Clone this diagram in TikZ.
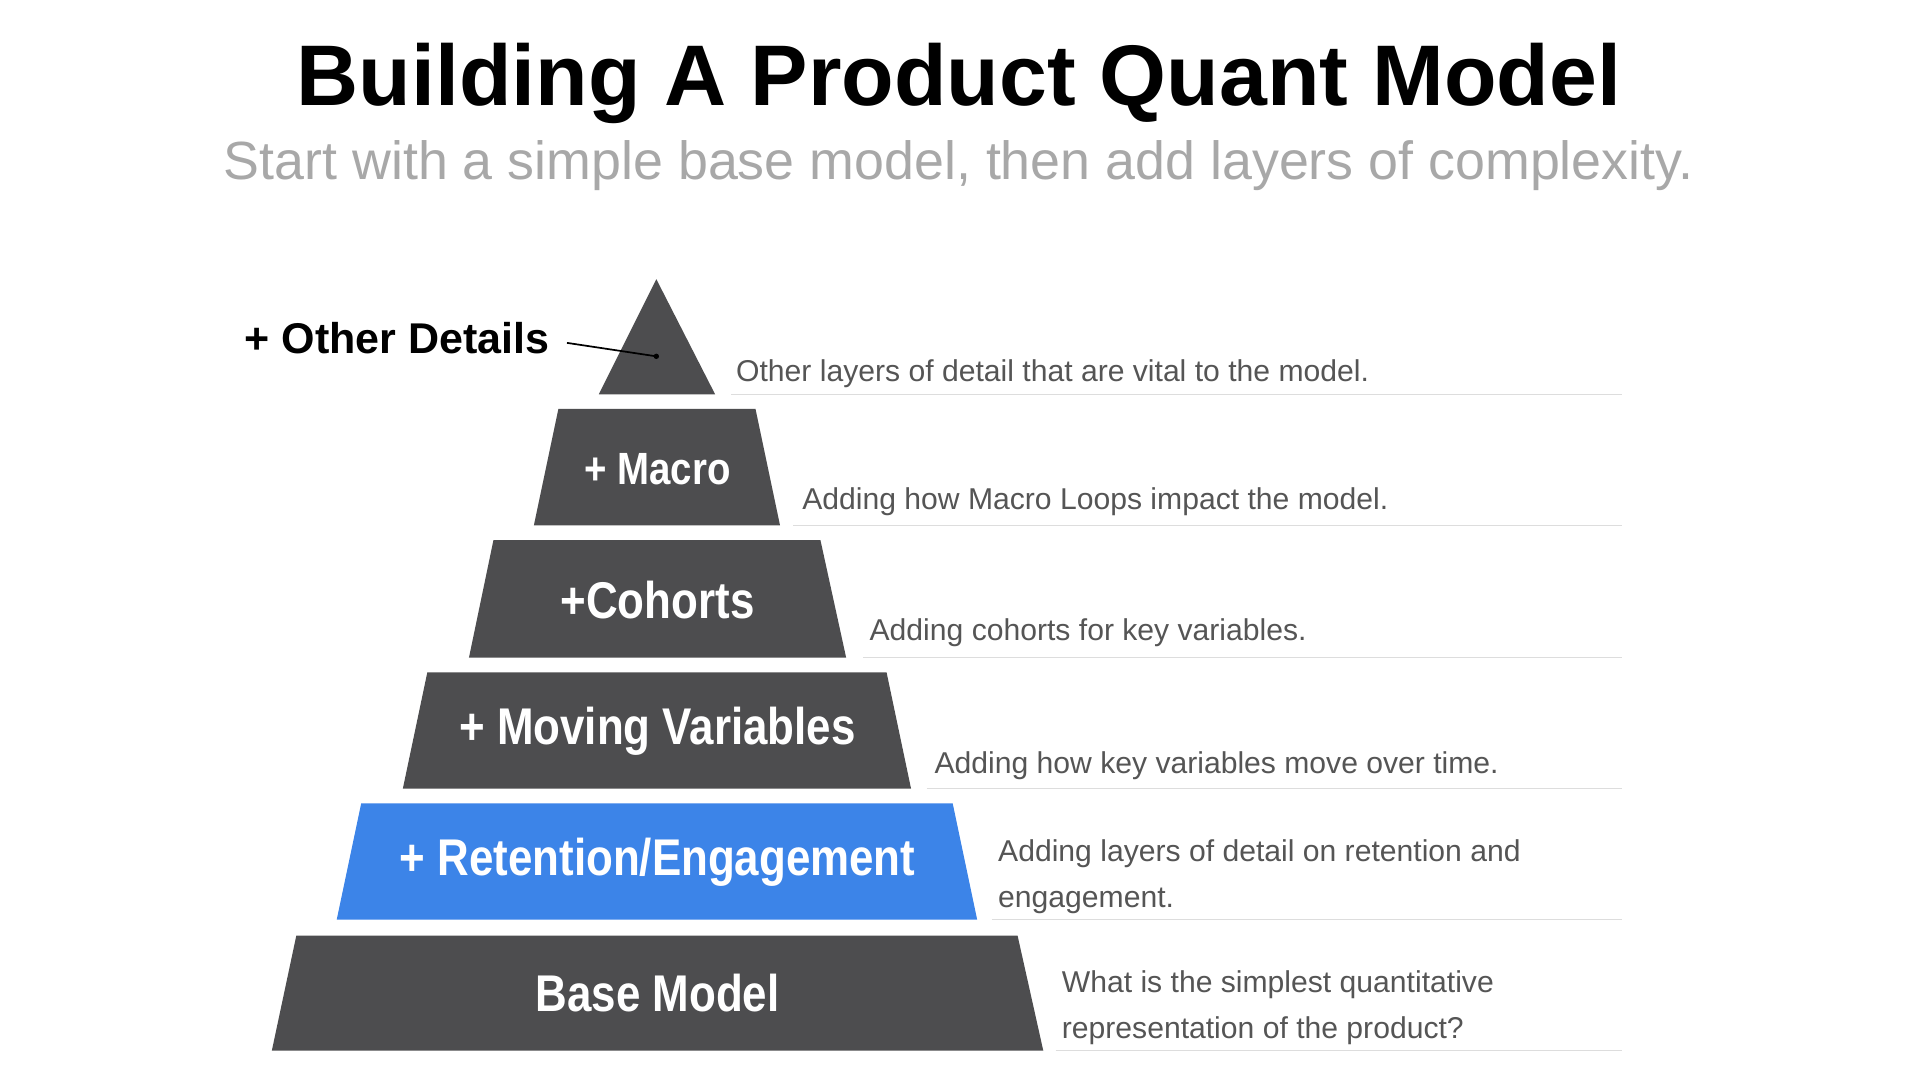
\documentclass[tikz,border=0pt]{standalone}
\usepackage{fontspec}
\setmainfont{Liberation Sans}
\begin{document}
\begin{tikzpicture}[x=0.02cm,y=-0.02cm,
  layer/.style={fill=dark,draw=none},
  lab/.style={text=white,font=\bfseries\fontsize{24}{28}\selectfont,xscale=0.85,transform shape},
  desc/.style={text=txt,anchor=west,font=\fontsize{14}{21}\selectfont,align=left},
  rule/.style={draw=rulec,line width=0.5pt}]
\definecolor{dark}{HTML}{4D4D4F}
\definecolor{blue}{HTML}{3C84E8}
\definecolor{txt}{HTML}{555555}
\definecolor{rulec}{HTML}{DDDDDD}
\definecolor{sub}{HTML}{A8A8A8}
\useasboundingbox (0,0) rectangle (1568,882);
\fill[white] (0,0) rectangle (1568,882);
\node (title) at (783,68) {\bfseries\fontsize{40}{46}\selectfont Building A Product Quant Model};
\node[text=sub] (subtitle) at (783,135) {\fontsize{25}{30}\selectfont Start with a simple base model, then add layers of complexity.};
% layers
\fill[layer] (536,228) -- (584,322) -- (489,322) -- cycle;
\fill[layer] (456,334) -- (617,334) -- (637,429) -- (436,429) -- cycle;
\fill[layer] (403,441) -- (670,441) -- (691,537) -- (383,537) -- cycle;
\fill[layer] (349,549) -- (724,549) -- (744,644) -- (329,644) -- cycle;
\fill[blue] (295,656) -- (778,656) -- (798,751) -- (275,751) -- cycle;
\fill[layer] (242,764) -- (831,764) -- (852,858) -- (222,858) -- cycle;
\node[lab,font=\bfseries\fontsize{21}{25}\selectfont] (macro) at (537,383) {+ Macro};
\node[lab] (cohorts) at (537,490) {+Cohorts};
\node[lab] (moving) at (537,597) {+ Moving Variables};
\node[lab] (ret) at (537,704) {+ Retention/Engagement};
\node[lab] (base) at (537,811) {Base Model};
% rules
\draw[rule] (597,322) -- (1325,322);
\draw[rule] (648,429) -- (1325,429);
\draw[rule] (705,537) -- (1325,537);
\draw[rule] (757,644) -- (1325,644);
\draw[rule] (810,751) -- (1325,751);
\draw[rule] (862,858) -- (1325,858);
% descriptions
\node[desc] (d1) at (595,305) {Other layers of detail that are vital to the model.};
\node[desc] (d2) at (649,410) {Adding how Macro Loops impact the model.};
\node[desc] (d3) at (704,517) {Adding cohorts for key variables.};
\node[desc] (d4) at (757,625) {Adding how key variables move over time.};
\node[desc] (d5) at (809,716) {Adding layers of detail on retention and\\engagement.};
\node[desc] (d6) at (861,823) {What is the simplest quantitative\\representation of the product?};
% other details
\node[anchor=east,font=\bfseries\fontsize{20}{24}\selectfont] (other) at (455,276) {+ Other Details};
\coordinate (dot) at (536,291);
\fill (dot) circle (2.2);
\draw[line width=0.8pt] (other.east) ++(8,4) -- (dot);
\end{tikzpicture}
\end{document}
